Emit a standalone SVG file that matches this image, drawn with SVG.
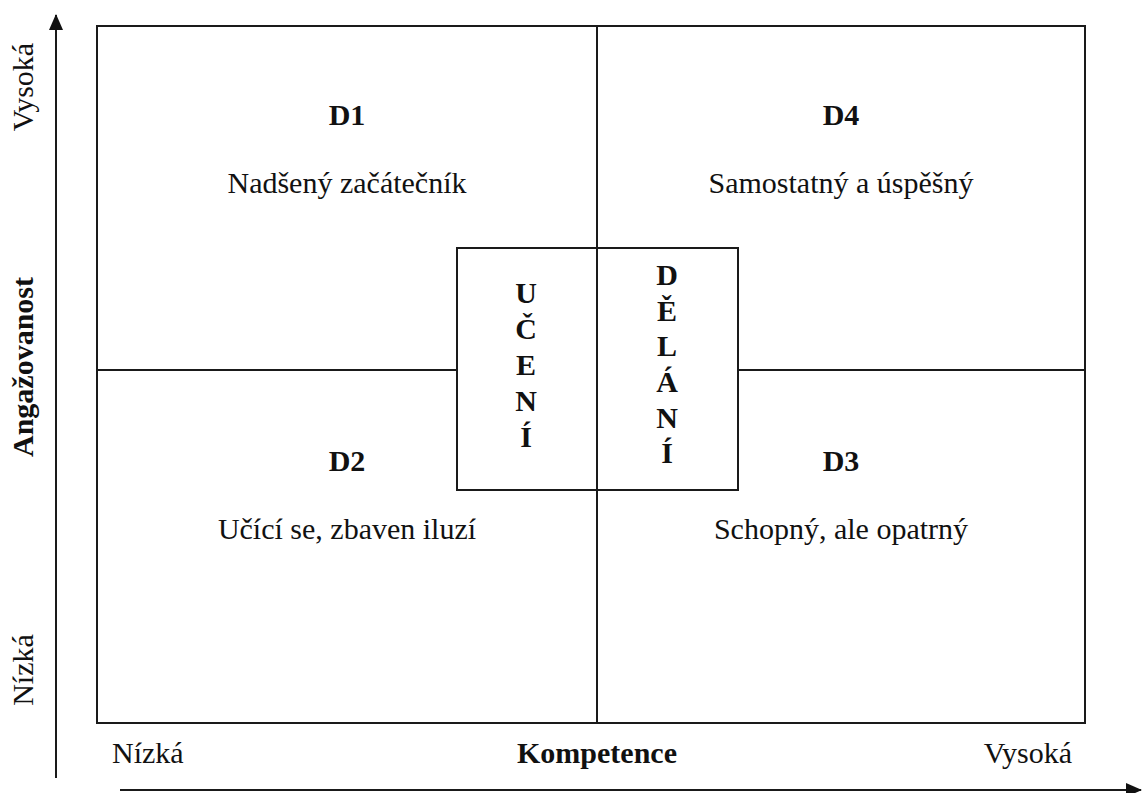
<svg xmlns="http://www.w3.org/2000/svg" width="1142" height="793" viewBox="0 0 1142 793">
  <style>
    .ln { fill: none; stroke: #1a1a1a; stroke-width: 2; }
    text { font-family: "Liberation Serif", "Times New Roman", serif; fill: #111; font-size: 30px; }
    .b { font-weight: bold; }
    .c { text-anchor: middle; }
  </style>
  <defs>
    <!-- filled triangular arrowhead for both axes -->
    <marker id="arrow" viewBox="0 0 16 14" refX="15" refY="7" markerWidth="16" markerHeight="14" markerUnits="userSpaceOnUse" orient="auto">
      <path d="M0,0 L16,7 L0,14 z" fill="#111"/>
    </marker>
  </defs>
  <rect width="1142" height="793" fill="#fff"/>

  <!-- axes -->
  <g id="connectors">
    <path class="ln" d="M56,778 L56,15" marker-end="url(#arrow)"/>
    <path class="ln" d="M120,790 L1141,790" marker-end="url(#arrow)"/>
  </g>

  <!-- grid of quadrants -->
  <g id="grid">
    <rect class="ln" x="97" y="26" width="988" height="697"/>
    <line class="ln" x1="597" y1="26" x2="597" y2="723"/>
    <line class="ln" x1="97" y1="370" x2="457" y2="370"/>
    <line class="ln" x1="738" y1="370" x2="1085" y2="370"/>
  </g>

  <g id="center-box">
    <rect class="ln" x="457" y="248" width="281" height="242"/>
  </g>

  <g id="uceni">
    <text class="b c" x="526" y="303">U</text>
    <text class="b c" x="526" y="339">Č</text>
    <text class="b c" x="526" y="375">E</text>
    <text class="b c" x="526" y="411">N</text>
    <text class="b c" x="526" y="447">Í</text>
  </g>

  <g id="delani">
    <text class="b c" x="667" y="285">D</text>
    <text class="b c" x="667" y="321">Ě</text>
    <text class="b c" x="667" y="356">L</text>
    <text class="b c" x="667" y="392">Á</text>
    <text class="b c" x="667" y="428">N</text>
    <text class="b c" x="667" y="463">Í</text>
  </g>

  <g id="d1">
    <text class="b c" x="347" y="125">D1</text>
    <text class="c" x="347" y="193">Nadšený začátečník</text>
  </g>
  <g id="d4">
    <text class="b c" x="841" y="125">D4</text>
    <text class="c" x="841" y="193">Samostatný a úspěšný</text>
  </g>
  <g id="d2">
    <text class="b c" x="347" y="471">D2</text>
    <text class="c" x="347" y="539">Učící se, zbaven iluzí</text>
  </g>
  <g id="d3">
    <text class="b c" x="841" y="471">D3</text>
    <text class="c" x="841" y="539">Schopný, ale opatrný</text>
  </g>

  <!-- axis labels -->
  <g id="x-labels">
    <text x="112" y="763">Nízká</text>
    <text class="b c" x="597" y="763">Kompetence</text>
    <text x="1072" y="763" text-anchor="end">Vysoká</text>
  </g>
  <g id="y-labels">
    <text class="c" transform="translate(33,87) rotate(-90)">Vysoká</text>
    <text class="b c" transform="translate(33,367) rotate(-90)">Angažovanost</text>
    <text class="c" transform="translate(33,670) rotate(-90)">Nízká</text>
  </g>
</svg>
